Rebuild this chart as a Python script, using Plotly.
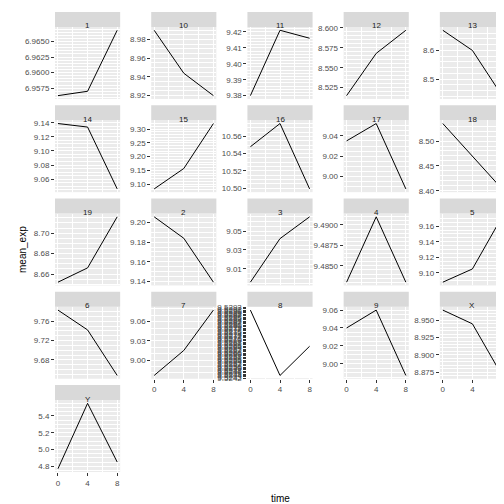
import plotly.graph_objects as go
from plotly.subplots import make_subplots

panels = ["1","10","11","12","13","14","15","16","17","18","19","2","3","4","5","6","7","8","9","X","Y"]
times = [0, 4, 8]
v1 = [6.9563, 6.9570, 6.9668]
v10 = [8.990, 8.944, 8.920]
v11 = [9.380, 9.421, 9.416]
v12 = [8.515, 8.568, 8.597]
v13 = [8.67, 8.60, 8.443]
v14 = [9.139, 9.134, 9.046]
v15 = [9.083, 9.157, 9.320]
v16 = [10.548, 10.575, 10.499]
v17 = [9.035, 9.052, 8.988]
v18 = [8.535, 8.470, 8.404]
v19 = [8.652, 8.666, 8.716]
v2 = [9.206, 9.184, 9.139]
v3 = [8.996, 9.042, 9.065]
v4 = [9.4830, 9.4910, 9.4830]
v5 = [9.088, 9.105, 9.172]
v6 = [9.783, 9.742, 9.648]
v7 = [8.976, 9.015, 9.078]
v8 = [9.5291, 9.5244, 9.5265]
v9 = [9.040, 9.060, 8.987]
vX = [8.965, 8.945, 8.870]
vY = [4.77, 5.55, 4.85]
values = [v1,v10,v11,v12,v13,v14,v15,v16,v17,v18,v19,v2,v3,v4,v5,v6,v7,v8,v9,vX,vY]

# axis tick styling per panel
dticks = [0.0025,0.02,0.01,0.025,0.1,0.02,0.05,0.02,0.02,0.05,0.02,0.02,0.02,0.0025,0.02,0.04,0.03,0.0001,0.02,0.025,0.2]
ticks0 = [0,0,0,0,0,0,0,0,0,0,0,0,0.01,0,0,0,0,0,0,0,0]
decs = [4,2,2,3,1,2,2,2,2,2,2,2,2,4,2,2,2,4,2,3,1]

ncol, nrow = 5, 5
fig = make_subplots(rows=nrow, cols=ncol, horizontal_spacing=0.069, vertical_spacing=0.048)
tickfont = dict(family="Liberation Sans, Arial", size=8, color="#4d4d4d")
n = len(panels)
for i, (name, vals) in enumerate(zip(panels, values)):
    r, c = i // ncol + 1, i % ncol + 1
    fig.add_trace(go.Scatter(x=times, y=vals, mode="lines", line=dict(color="black", width=1),
                             showlegend=False, hoverinfo="skip"), row=r, col=c)
    bottom = (i + ncol >= n)
    fig.update_xaxes(range=[-0.4, 8.4], tickvals=[0, 4, 8],
                     minor=dict(tickvals=[2, 6], showgrid=True, gridcolor="white", gridwidth=0.5),
                     showgrid=True, gridcolor="white", gridwidth=1.1, zeroline=False,
                     showticklabels=bottom, ticks="outside" if bottom else "", ticklen=3,
                     tickcolor="#333333", tickfont=tickfont, showline=False, row=r, col=c)
    lo, hi = min(vals), max(vals)
    pad = (hi - lo) * 0.05
    fig.update_yaxes(range=[lo - pad, hi + pad], dtick=dticks[i], tick0=ticks0[i],
                     tickformat=f".{decs[i]}f", showgrid=True, gridcolor="white",
                     gridwidth=1.1, minor=dict(showgrid=True, gridcolor="white", gridwidth=0.5),
                     zeroline=False, ticks="outside", ticklen=3, tickcolor="#333333",
                     tickfont=tickfont, row=r, col=c)
    k = i + 1
    xr = "x" if k == 1 else f"x{k}"
    yr = "y" if k == 1 else f"y{k}"
    fig.add_shape(type="rect", xref=f"{xr} domain", yref=f"{yr} domain", x0=0, x1=1, y0=1, y1=1.21,
                  fillcolor="#d9d9d9", line=dict(width=0), layer="below")
    fig.add_annotation(text=name, xref=f"{xr} domain", yref=f"{yr} domain", x=0.5, y=1.105,
                       showarrow=False, font=dict(family="Liberation Sans, Arial", size=8, color="#1a1a1a"))

for k in range(n + 1, nrow * ncol + 1):
    fig.update_layout({f"xaxis{k}": dict(visible=False), f"yaxis{k}": dict(visible=False)})

fig.add_annotation(text="time", xref="paper", yref="paper", x=0.5, y=0, yshift=-34, showarrow=False,
                   font=dict(family="Liberation Sans, Arial", size=10, color="black"))
fig.add_annotation(text="mean_exp", xref="paper", yref="paper", x=0, xshift=-40, y=0.5, textangle=-90,
                   showarrow=False, font=dict(family="Liberation Sans, Arial", size=10, color="black"))
fig.update_layout(autosize=True, margin=dict(l=47, r=7, t=19, b=40),
                  paper_bgcolor="white", plot_bgcolor="#ebebeb")
fig.write_html("out.html", default_width="100vw", default_height="100vh",
               include_plotlyjs=True, full_html=True)
